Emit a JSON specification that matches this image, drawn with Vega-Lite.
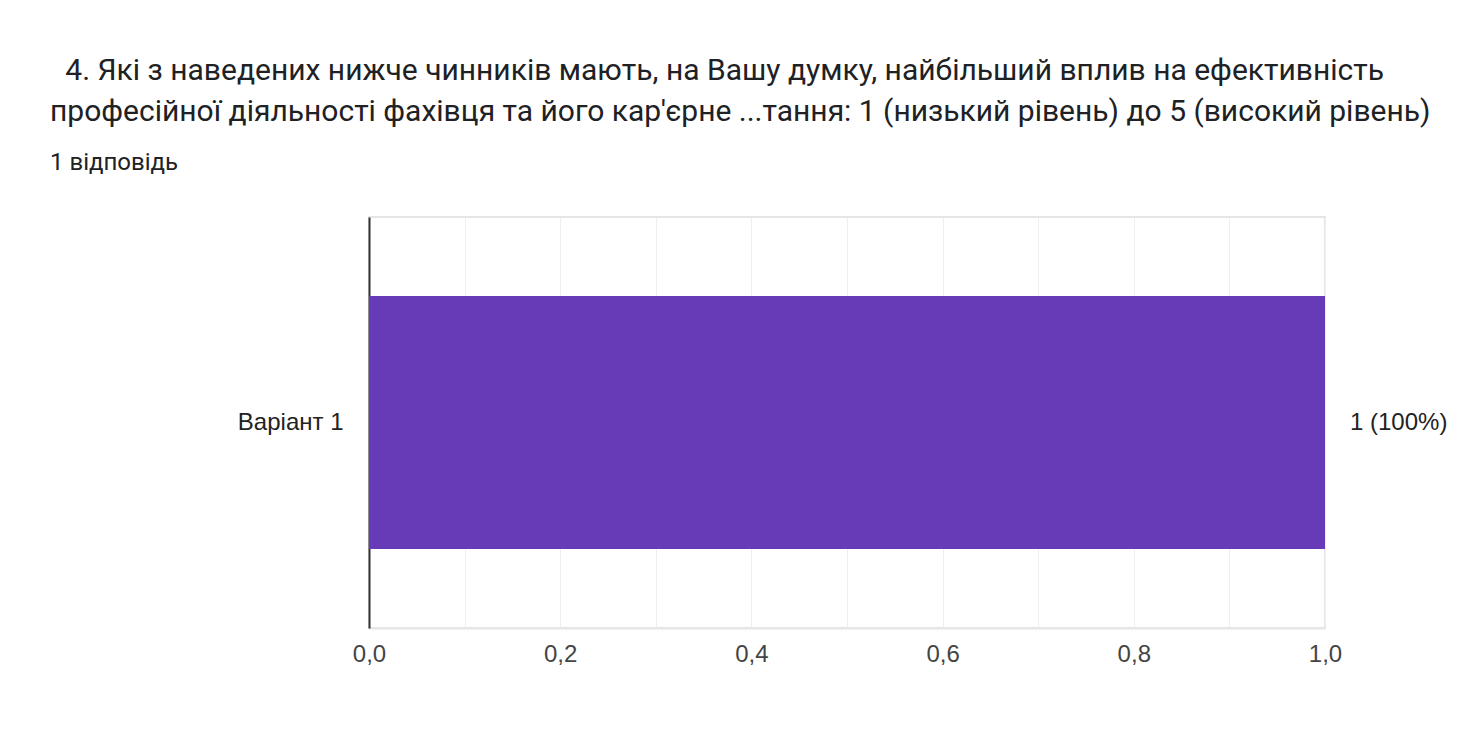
{
  "$schema": "https://vega.github.io/schema/vega-lite/v6.json",
  "width": 956,
  "height": 411,
  "autosize": {"type": "none"},
  "padding": {"left": 369, "top": 217, "right": 148, "bottom": 121},
  "background": "white",
  "title": {
    "text": ["\u200b\u20024. Які з наведених нижче чинників мають, на Вашу думку, найбільший вплив на ефективність", "професійної діяльності фахівця та його кар'єрне ...тання: 1 (низький рівень) до 5 (високий рівень)"],
    "subtitle": "1 відповідь",
    "anchor": "start",
    "frame": "group",
    "dx": -319,
    "offset": 42,
    "font": "Roboto",
    "fontSize": 30,
    "fontWeight": "normal",
    "lineHeight": 41,
    "color": "#202124",
    "subtitleFont": "Roboto",
    "subtitleFontSize": 24,
    "subtitleColor": "#202124",
    "subtitlePadding": 24
  },
  "data": {"values": [{"option": "Варіант 1", "count": 1, "label": "1 (100%)"}]},
  "encoding": {
    "y": {"field": "option", "type": "nominal", "title": null,
      "axis": {"ticks": false, "domainColor": "#333333", "domainWidth": 2, "labelFont": "Liberation Sans", "labelFontSize": 24, "labelColor": "#222222", "labelPadding": 26, "grid": false}}
  },
  "layer": [
    {
      "mark": {"type": "bar", "size": 253, "color": "#673ab7"},
      "encoding": {
        "x": {"field": "count", "type": "quantitative", "scale": {"domain": [0, 1]}, "title": null,
          "axis": {"grid": true, "values": [0, 0.1, 0.2, 0.3, 0.4, 0.5, 0.6, 0.7, 0.8, 0.9, 1.0], "labelOverlap": false, "labelFlush": false, "labelExpr": "round(datum.value*10)%2==0 ? replace(format(datum.value, '.1f'), '.', ',') : ''", "ticks": false, "domainColor": "#e6e6e6", "domainWidth": 2, "gridColor": "#eeeeee", "gridWidth": 1, "labelFont": "Liberation Sans", "labelFontSize": 24, "labelColor": "#444444", "labelPadding": 14}}
      }
    },
    {
      "mark": {"type": "text", "align": "left", "dx": 25, "font": "Liberation Sans", "fontSize": 24, "color": "#222222"},
      "encoding": {
        "x": {"field": "count", "type": "quantitative"},
        "text": {"field": "label"}
      }
    }
  ],
  "config": {
    "view": {"stroke": "#e6e6e6", "strokeWidth": 2}
  }
}
